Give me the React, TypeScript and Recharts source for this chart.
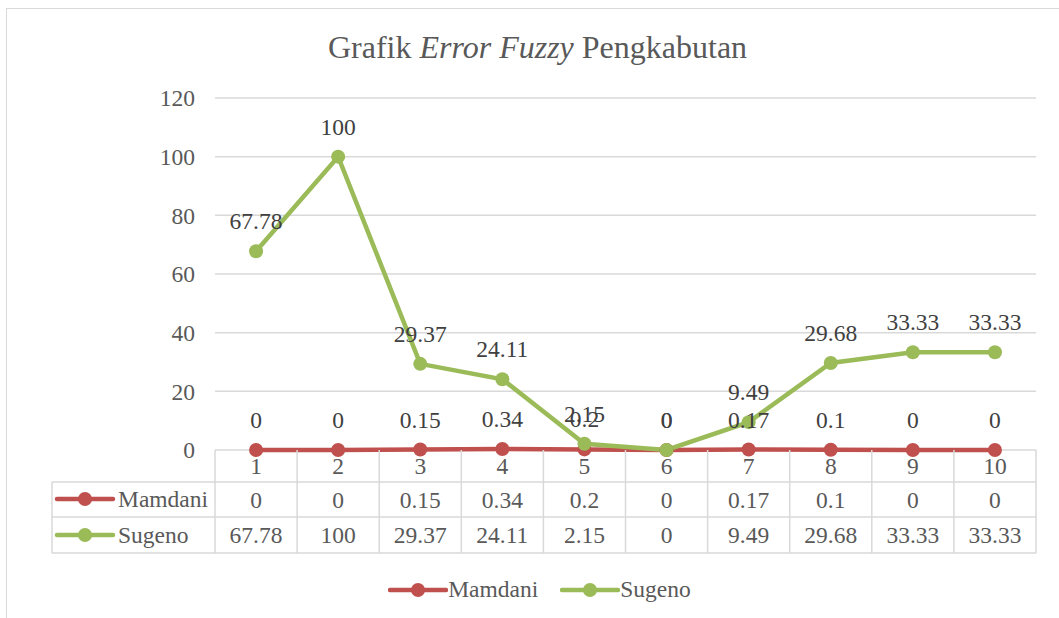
import React from "react";
import {
  LineChart,
  Line,
  XAxis,
  YAxis,
  CartesianGrid,
  Legend,
  LabelList,
} from "recharts";

const categories = ["1", "2", "3", "4", "5", "6", "7", "8", "9", "10"];
const mamdani = [0, 0, 0.15, 0.34, 0.2, 0, 0.17, 0.1, 0, 0];
const sugeno = [67.78, 100, 29.37, 24.11, 2.15, 0, 9.49, 29.68, 33.33, 33.33];
const yTicks = [0, 20, 40, 60, 80, 100, 120];

const seriesNames = ["Mamdani", "Sugeno"];
const RED = "#C0504D";
const GREEN = "#9BBB59";
const GRID = "#d9d9d9";
const TEXT = "#595959";
const FONT = "'Liberation Serif', 'Times New Roman', serif";
const FS = 23.5;

const data = categories.map((c, i) => ({ cat: c, Mamdani: mamdani[i], Sugeno: sugeno[i] }));

// layout of the plot / data table
const W = 1059;
const H = 618;
const PLOT_LEFT = 215;
const PLOT_RIGHT = 1036;
const BAND = (PLOT_RIGHT - PLOT_LEFT) / categories.length;
const TABLE_LEFT = 52;
const ROW1 = 32; // header row bottom (relative to axis)
const ROW2 = 67;
const ROW3 = 103;

function Marker({ x, y, color }: { x: number; y: number; color: string }) {
  return (
    <g>
      <line x1={x} y1={y} x2={x + 56} y2={y} stroke={color} strokeWidth={4.5} strokeLinecap="round" />
      <circle cx={x + 28} cy={y} r={7} fill={color} />
    </g>
  );
}

function TableTick(props: any) {
  const { x, y, payload, index } = props;
  const i = index;
  const textProps = { fill: TEXT, fontSize: FS, fontFamily: FONT, textAnchor: "middle" as const };
  const right = x + BAND / 2;
  return (
    <g>
      {i === 0 && (
        <g>
          <line x1={x - BAND / 2} y1={y} x2={x - BAND / 2} y2={y + ROW3} stroke={GRID} strokeWidth={1.5} />
          <line x1={TABLE_LEFT} y1={y + ROW1} x2={PLOT_RIGHT} y2={y + ROW1} stroke={GRID} strokeWidth={1.5} />
          <line x1={TABLE_LEFT} y1={y + ROW2} x2={PLOT_RIGHT} y2={y + ROW2} stroke={GRID} strokeWidth={1.5} />
          <line x1={TABLE_LEFT} y1={y + ROW3} x2={PLOT_RIGHT} y2={y + ROW3} stroke={GRID} strokeWidth={1.5} />
          <line x1={TABLE_LEFT} y1={y + ROW1} x2={TABLE_LEFT} y2={y + ROW3} stroke={GRID} strokeWidth={1.5} />
          <Marker x={TABLE_LEFT + 5} y={y + 49} color={RED} />
          <text x={TABLE_LEFT + 66} y={y + 57} fill={TEXT} fontSize={FS} fontFamily={FONT}>
            {seriesNames[0]}
          </text>
          <Marker x={TABLE_LEFT + 5} y={y + 85} color={GREEN} />
          <text x={TABLE_LEFT + 66} y={y + 93} fill={TEXT} fontSize={FS} fontFamily={FONT}>
            {seriesNames[1]}
          </text>
        </g>
      )}
      <line x1={right} y1={y} x2={right} y2={y + ROW3} stroke={GRID} strokeWidth={1.5} />
      <text x={x} y={y + 24} {...textProps}>{payload.value}</text>
      <text x={x} y={y + 58} {...textProps}>{mamdani[i]}</text>
      <text x={x} y={y + 93} {...textProps}>{sugeno[i]}</text>
    </g>
  );
}

function LegendContent() {
  return (
    <div style={{ display: "flex", justifyContent: "center", gap: 22, paddingLeft: 20, fontFamily: FONT, fontSize: FS, color: TEXT }}>
      {[RED, GREEN].map((c, k) => (
        <div key={k} style={{ display: "flex", alignItems: "center" }}>
          <svg width={60} height={20}>
            <Marker x={2} y={10} color={c} />
          </svg>
          <span>{seriesNames[k]}</span>
        </div>
      ))}
    </div>
  );
}

export default function App() {
  return (
    <div style={{ position: "absolute", top: 0, left: 0, width: W, height: H, background: "#fff", overflow: "hidden" }}>
      <div
        style={{
          position: "absolute",
          left: 6,
          top: 8,
          width: W + 20,
          height: H + 20,
          borderLeft: `1.5px solid ${GRID}`,
          borderTop: `1.5px solid ${GRID}`,
        }}
      />
      <div
        style={{
          position: "absolute",
          top: 29,
          left: 0,
          width: W,
          paddingLeft: 16,
          boxSizing: "border-box",
          textAlign: "center",
          fontFamily: FONT,
          fontSize: 32,
          color: TEXT,
        }}
      >
        Grafik <i>Error Fuzzy</i> Pengkabutan
      </div>
      <LineChart
        width={W}
        height={H}
        data={data}
        margin={{ top: 98, right: W - PLOT_RIGHT, left: PLOT_LEFT - 60, bottom: 14 }}
        style={{ position: "absolute", top: 0, left: 0 }}
      >
        <CartesianGrid vertical={false} stroke={GRID} strokeWidth={1.5} />
        <XAxis
          dataKey="cat"
          axisLine={false}
          tickLine={false}
          tickSize={0}
          tickMargin={0}
          height={126}
          interval={0}
          padding={{ left: BAND / 2, right: BAND / 2 }}
          tick={<TableTick />}
        />
        <YAxis
          domain={[0, 120]}
          ticks={yTicks}
          axisLine={false}
          tickLine={false}
          tickSize={0}
          tickMargin={20}
          width={60}
          tick={{ fill: TEXT, fontSize: FS, fontFamily: FONT }}
        />
        <Legend
          verticalAlign="bottom"
          height={28}
          wrapperStyle={{ left: 0, width: W }}
          content={<LegendContent />}
        />
        <Line
          dataKey="Mamdani"
          stroke={RED}
          strokeWidth={4.5}
          dot={{ r: 7, fill: RED, stroke: RED, strokeWidth: 0 }}
          isAnimationActive={false}
        >
          <LabelList dataKey="Mamdani" position="top" offset={22} fill="#404040" fontSize={FS} fontFamily={FONT} />
        </Line>
        <Line
          dataKey="Sugeno"
          stroke={GREEN}
          strokeWidth={4.5}
          dot={{ r: 7, fill: GREEN, stroke: GREEN, strokeWidth: 0 }}
          isAnimationActive={false}
        >
          <LabelList dataKey="Sugeno" position="top" offset={22} fill="#404040" fontSize={FS} fontFamily={FONT} />
        </Line>
      </LineChart>
    </div>
  );
}
